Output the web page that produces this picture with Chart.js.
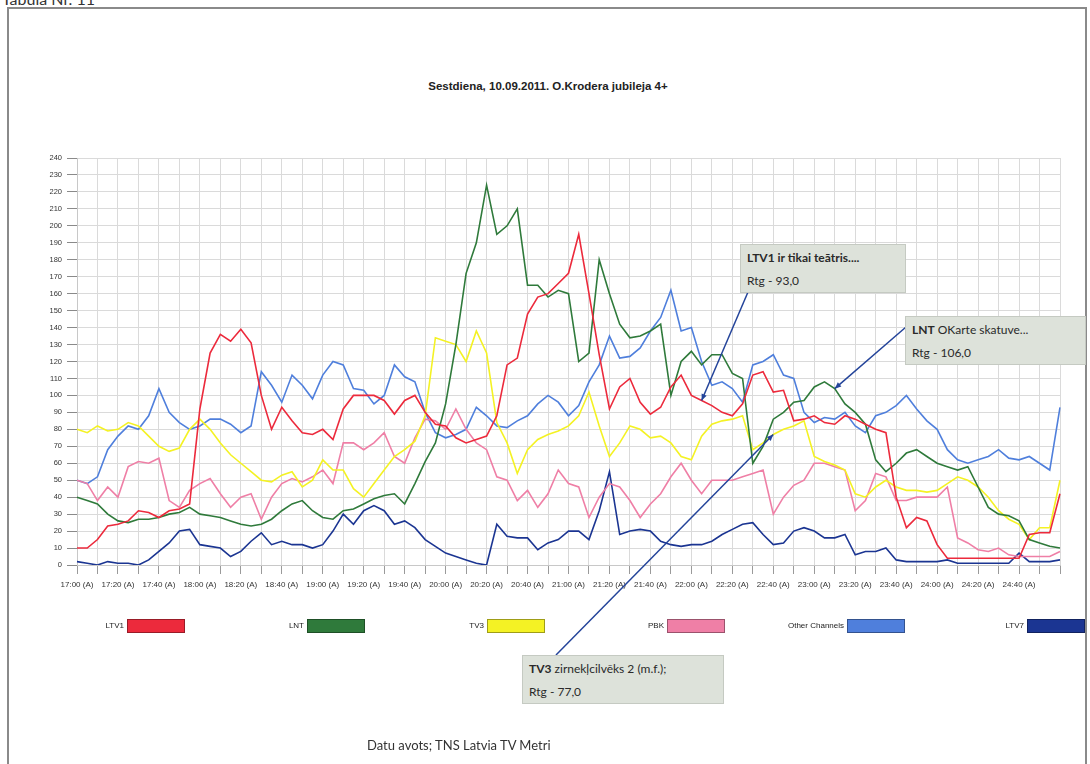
<!DOCTYPE html>
<html>
<head>
<meta charset="utf-8">
<script src="https://cdn.jsdelivr.net/npm/chart.js@4.4.1/dist/chart.umd.min.js"></script>
<style>
  html, body { margin: 0; padding: 0; background: #fff; }
  body { width: 1090px; height: 764px; position: relative; overflow: hidden; font-family: "Liberation Sans", Arial, sans-serif; }
  #chart1 { position: absolute; left: 0; top: 0; }
  .frame { position: absolute; left: 7px; top: 7px; width: 1080px; height: 800px; border: 2px solid #8a8a8a; box-sizing: border-box; }
  .tabula { position: absolute; left: 2px; top: -11px; font-family: Lato, sans-serif; font-size: 16px; color: #333; }
  .title { position: absolute; left: 0; width: 1096px; top: 80px; text-align: center; font-weight: bold; font-size: 11.5px; color: #222; }
  .source { position: absolute; left: 367px; top: 737px; font-family: Lato, sans-serif; font-size: 13px; color: #333; }
  .note { position: absolute; background: #dde2da; border: 1px solid #c5cac2; box-sizing: border-box; font-family: Lato, sans-serif; font-size: 12px; color: #2a2a2a; padding: 1px 6px; line-height: 23px; }
</style>
</head>
<body>
<div class="frame"></div>
<div class="tabula">Tabula Nr. 11</div>
<div class="title">Sestdiena, 10.09.2011. O.Krodera jubileja 4+</div>
<canvas id="chart1" width="1090" height="764"></canvas>
<div class="note" style="left:740px; top:244px; width:166px; height:49px;"><b>LTV1 ir tikai teātris....</b><br>Rtg - 93,0</div>
<div class="note" style="left:905px; top:316px; width:181px; height:49px;"><b>LNT</b> OKarte skatuve...<br>Rtg - 106,0</div>
<div class="note" style="left:522px; top:655px; width:202px; height:49px;"><b>TV3</b> zirnekļcilvēks 2 (m.f.);<br>Rtg - 77,0</div>
<div class="source">Datu avots; TNS Latvia TV Metri</div>
<script>
// 5-minute readings from 17:00 to 25:00
const tickLabels = [
  "17:00 (A)", "17:20 (A)", "17:40 (A)", "18:00 (A)", "18:20 (A)", "18:40 (A)",
  "19:00 (A)", "19:20 (A)", "19:40 (A)", "20:00 (A)", "20:20 (A)", "20:40 (A)",
  "21:00 (A)", "21:20 (A)", "21:40 (A)", "22:00 (A)", "22:20 (A)", "22:40 (A)",
  "23:00 (A)", "23:20 (A)", "23:40 (A)", "24:00 (A)", "24:20 (A)", "24:40 (A)",
];
const seriesNames = ["LTV1", "LNT", "TV3", "PBK", "Other Channels", "LTV7"];
const seriesColors = ["#ec2a3c", "#2f7a3b", "#f4f224", "#ef7fa6", "#4f7fdc", "#1b3592"];

const ltv1 = [
  10, 10, 15, 23, 24, 26, 32, 31, 28, 32,
  33, 36, 92, 125, 136, 132, 139, 131, 100, 80,
  93, 85, 78, 77, 80, 74, 92, 100, 100, 100,
  97, 89, 97, 100, 90, 83, 82, 75, 72, 74,
  76, 88, 118, 122, 148, 158, 160, 166, 172, 195,
  160, 124, 92, 105, 110, 96, 89, 93, 105, 112,
  100, 97, 94, 90, 88, 95, 112, 114, 102, 103,
  85, 86, 88, 84, 83, 88, 86, 83, 80, 78,
  40, 22, 28, 26, 12, 4, 4, 4, 4, 4,
  4, 4, 4, 18, 19, 19, 42,
];
const lnt = [
  40, 38, 36, 30, 26, 25, 27, 27, 28, 30,
  31, 34, 30, 29, 28, 26, 24, 23, 24, 27,
  32, 36, 38, 32, 28, 27, 32, 33, 36, 39,
  41, 42, 36, 48, 61, 72, 95, 130, 172, 190,
  224, 195, 200, 210, 165, 165, 158, 162, 160, 120,
  125, 180, 160, 142, 134, 135, 138, 142, 100, 120,
  126, 118, 124, 124, 113, 110, 60, 70, 86, 90,
  96, 97, 105, 108, 104, 95, 90, 83, 62, 55,
  60, 66, 68, 64, 60, 58, 56, 58, 46, 34,
  30, 29, 26, 15, 13, 11, 10,
];
const tv3 = [
  80, 78, 82, 79, 80, 84, 82, 76, 70, 67,
  69, 80, 86, 80, 72, 65, 60, 55, 50, 49,
  53, 55, 46, 50, 62, 56, 56, 45, 40, 48,
  56, 64, 68, 73, 88, 134, 132, 130, 120, 138,
  125, 84, 72, 54, 68, 74, 77, 79, 82, 88,
  102, 82, 64, 72, 82, 80, 75, 76, 72, 64,
  62, 76, 83, 85, 86, 88, 68, 72, 77, 80,
  82, 85, 64, 61, 59, 56, 42, 40, 46, 50,
  46, 44, 44, 43, 44, 48, 52, 50, 46, 40,
  32, 27, 24, 15, 22, 22, 50,
];
const pbk = [
  50, 48, 38, 46, 40, 58, 61, 60, 63, 38,
  34, 44, 48, 51, 42, 34, 40, 42, 27, 40,
  48, 51, 49, 52, 56, 48, 72, 72, 68, 72,
  78, 64, 60, 75, 86, 85, 80, 92, 80, 72,
  68, 52, 50, 38, 44, 34, 42, 56, 48, 46,
  28, 40, 48, 46, 38, 28, 36, 42, 52, 60,
  50, 42, 50, 50, 50, 52, 54, 56, 30, 40,
  47, 50, 60, 60, 58, 56, 32, 38, 54, 52,
  38, 38, 40, 40, 40, 46, 16, 13, 9, 8,
  10, 6, 5, 5, 5, 5, 8,
];
const otherChannels = [
  50, 48, 52, 68, 76, 82, 80, 88, 104, 90,
  84, 80, 82, 86, 86, 83, 78, 82, 114, 106,
  96, 112, 106, 98, 112, 120, 118, 104, 103, 95,
  100, 118, 111, 108, 90, 78, 75, 77, 80, 93,
  88, 82, 81, 85, 88, 95, 100, 96, 88, 94,
  108, 118, 135, 122, 123, 128, 138, 146, 162, 138,
  140, 120, 106, 108, 104, 96, 118, 120, 124, 112,
  110, 90, 84, 87, 86, 90, 82, 78, 88, 90,
  94, 100, 92, 85, 80, 68, 62, 60, 62, 64,
  68, 63, 62, 64, 60, 56, 93,
];
const ltv7 = [
  2, 1, 0, 2, 1, 1, 0, 3, 8, 13,
  20, 21, 12, 11, 10, 5, 8, 14, 19, 12,
  14, 12, 12, 10, 12, 20, 30, 24, 32, 35,
  32, 24, 26, 22, 15, 11, 7, 5, 3, 1,
  0, 24, 17, 16, 16, 9, 13, 15, 20, 20,
  15, 32, 55, 18, 20, 21, 20, 14, 12, 11,
  12, 12, 14, 18, 21, 24, 25, 18, 12, 13,
  20, 22, 20, 16, 16, 18, 6, 8, 8, 10,
  3, 2, 2, 2, 2, 3, 1, 1, 1, 1,
  1, 1, 7, 2, 2, 2, 3,
];

// callouts: which series / which point the leader line goes to
const callouts = [
  { series: 0, index: 61, from: [748, 292] },
  { series: 1, index: 74, from: [906, 327] },
  { series: 2, index: 68, from: [556, 655] },
];

const times = [];
for (let m = 0; m <= 480; m += 5) {
  const h = 17 + Math.floor(m / 60);
  const mm = String(m % 60).padStart(2, "0");
  times.push(h + ":" + mm + " (A)");
}

const allValues = [ltv1, lnt, tv3, pbk, otherChannels, ltv7];

const legendPlugin = {
  id: "boxLegend",
  afterDraw(chart) {
    const ctx = chart.ctx;
    ctx.save();
    ctx.font = "8px 'Liberation Sans', Arial, sans-serif";
    ctx.textAlign = "right";
    ctx.textBaseline = "middle";
    chart.data.datasets.forEach((ds, i) => {
      const right = 1085 - (5 - i) * 180;
      const w = 58, h = 14, top = 619;
      ctx.fillStyle = ds.borderColor;
      ctx.fillRect(right - w, top, w, h);
      ctx.strokeStyle = "rgba(0,0,0,0.35)";
      ctx.lineWidth = 1;
      ctx.strokeRect(right - w + 0.5, top + 0.5, w - 1, h - 1);
      ctx.fillStyle = "#222";
      ctx.fillText(ds.label, right - w - 3, top + h / 2);
    });
    ctx.restore();
  },
};

const leaderPlugin = {
  id: "leaders",
  afterDatasetsDraw(chart) {
    const ctx = chart.ctx;
    const x = chart.scales.x, y = chart.scales.y;
    ctx.save();
    ctx.strokeStyle = "#24449a";
    ctx.fillStyle = "#24449a";
    ctx.lineWidth = 1.5;
    callouts.forEach((c) => {
      const x1 = x.getPixelForValue(c.index);
      const y1 = y.getPixelForValue(allValues[c.series][c.index]);
      const [x0, y0] = c.from;
      ctx.beginPath();
      ctx.moveTo(x0, y0);
      ctx.lineTo(x1, y1);
      ctx.stroke();
      const a = Math.atan2(y1 - y0, x1 - x0);
      ctx.beginPath();
      ctx.moveTo(x1, y1);
      ctx.lineTo(x1 - 7 * Math.cos(a - 0.4), y1 - 7 * Math.sin(a - 0.4));
      ctx.lineTo(x1 - 7 * Math.cos(a + 0.4), y1 - 7 * Math.sin(a + 0.4));
      ctx.closePath();
      ctx.fill();
    });
    ctx.restore();
  },
};

const data = {
  labels: times,
  datasets: allValues.map((vals, i) => ({
    label: seriesNames[i],
    data: vals,
    borderColor: seriesColors[i],
    backgroundColor: seriesColors[i],
    borderWidth: 1.6,
    pointRadius: 0,
    tension: 0,
  })),
};

const options = {
  responsive: false,
  devicePixelRatio: 1,
  animation: false,
  layout: { padding: { left: 47, right: 30, top: 158, bottom: 169 } },
  plugins: { legend: { display: false }, tooltip: { enabled: false } },
  scales: {
    x: {
      afterFit: (s) => { s.height = 30; },
      grid: {
        color: (c) => (c.index % 2 === 0 ? "#dadada" : "rgba(0,0,0,0)"),
        tickColor: (c) => (c.index % 2 === 0 ? "#9a9a9a" : "rgba(0,0,0,0)"),
        tickLength: 9,
      },
      border: { color: "#c8c8c8" },
      ticks: {
        autoSkip: false,
        maxRotation: 0,
        minRotation: 0,
        padding: 6,
        color: "#333",
        font: { family: "'Liberation Sans', Arial, sans-serif", size: 8 },
        callback: function (value) {
          const lab = this.getLabelForValue(value);
          return tickLabels.includes(lab) ? lab : "";
        },
      },
    },
    y: {
      min: 0,
      max: 240,
      afterFit: (s) => { s.width = 30; },
      grid: { color: "#dadada", tickColor: "#8a8a8a", tickLength: 10 },
      border: { color: "#c8c8c8" },
      ticks: {
        stepSize: 10,
        padding: 5,
        color: "#333",
        font: { family: "'Liberation Sans', Arial, sans-serif", size: 7.5 },
      },
    },
  },
};

const ctx = document.getElementById("chart1").getContext("2d");
const chart1 = new Chart(ctx, {
  type: "line",
  data: data,
  options: options,
  plugins: [legendPlugin, leaderPlugin],
});
</script>
</body>
</html>
